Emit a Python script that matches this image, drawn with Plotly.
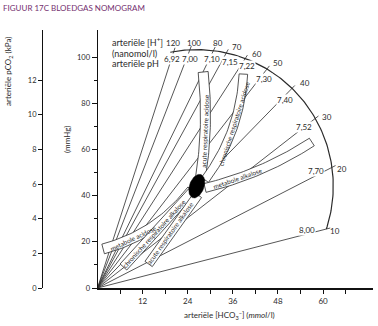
import numpy as np
import plotly.graph_objects as go

# ---------------- data ----------------
ph_values = [6.92, 7.00, 7.10, 7.15, 7.22, 7.30, 7.40, 7.52, 7.70, 8.00]
ph_text = ["6,92", "7,00", "7,10", "7,15", "7,22", "7,30", "7,40", "7,52", "7,70", "8,00"]
h_text = ["120", "100", "80", "70", "60", "50", "40", "30", "20", "10"]

normal_hco3 = 26.4
normal_pco2 = 44.1

band_names = ["acute respiratoire acidose", "chronische respiratoire acidose", "metabole alkalose",
              "metabole acidose", "chronische respiratoire alkalose", "acute respiratoire alkalose"]
band_start_hco3 = [27.3, 28.6, 28.6, 25.1, 25.1, 26.7]
band_start_pco2 = [46.8, 46.8, 43.3, 42.4, 41.6, 40.3]
band_end_hco3 = [28.1, 38.8, 57.0, 1.5, 6.9, 13.6]
band_end_pco2 = [93.5, 92.6, 63.2, 16.9, 9.1, 10.4]

hco3_ticks = [12, 24, 36, 48, 60]
hco3_minor = [6, 18, 30, 42, 54, 66]
mmhg_ticks = [0, 20, 40, 60, 80, 100]
mmhg_minor = [10, 30, 50, 70, 90]
kpa_ticks = [0, 2, 4, 6, 8, 10, 12]
KPA_PER_MMHG = 1 / 7.50062

# ---------------- layout geometry (pixels) ----------------
W, H = 378, 326
ML, MR, MT, MB = 20, 5, 30, 38
PL, PR, PT, PB = ML, W - MR, MT, H - MB
X0_PX = 97.5
SX, SY = 3.76, 2.31
X_MAX = (PR - X0_PX) / SX
Y_MAX = (PB - PT) / SY
PW, PH = PR - PL, PB - PT


def to_px(x, y):
    return np.array([X0_PX + x * SX, PB - y * SY])


def to_data(p):
    return (p[0] - X0_PX) / SX, (PB - p[1]) / SY


INK = "#2b2b2b"
FONT = "Lato, Open Sans, sans-serif"

fig = go.Figure()

# ---------------- iso-pH lines and arc ----------------
C = to_px(normal_hco3, normal_pco2)
R_ARC = 136.5
O = to_px(0, 0)
inter = []
for ph in ph_values:
    s = 1 / (0.03 * 10 ** (ph - 6.1))
    d = to_px(1, s) - O
    d = d / np.linalg.norm(d)
    f = O - C
    b = 2 * np.dot(d, f)
    c = np.dot(f, f) - R_ARC ** 2
    t = (-b + np.sqrt(b * b - 4 * c)) / 2
    I = O + t * d
    inter.append(I)
    end = O + (t + 4) * d
    ex, ey = to_data(end)
    fig.add_trace(go.Scatter(x=[0, ex], y=[0, ey], mode="lines",
                             line=dict(color=INK, width=0.8), hoverinfo="skip"))

a0 = np.degrees(np.arctan2(*(inter[0] - C)[::-1])) - 1.5
a1 = np.degrees(np.arctan2(*(inter[-1] - C)[::-1]))
ang = np.radians(np.linspace(a0, a1, 120))
arc_px = np.stack([C[0] + R_ARC * np.cos(ang), C[1] + R_ARC * np.sin(ang)])
ax_, ay_ = to_data(arc_px)
fig.add_trace(go.Scatter(x=ax_, y=ay_, mode="lines", line=dict(color=INK, width=1.2),
                         hoverinfo="skip"))

# ---------------- bands ----------------
band_width_px = [10, 8.5, 9, 10, 9, 9]
band_bend_px = [3.7, 8.5, 5, -9, 0, 0]
band_text_frac = [0.45, 0.56, 0.29, 0.71, 0.55, 0.55]
band_annos = []
for i, name in enumerate(band_names):
    S = to_px(band_start_hco3[i], band_start_pco2[i])
    E = to_px(band_end_hco3[i], band_end_pco2[i])
    d = E - S
    n = np.array([-d[1], d[0]]) / np.linalg.norm(d)
    P1 = (S + E) / 2 + 2 * band_bend_px[i] * n
    tt = np.linspace(0, 1, 40)[:, None]
    P = (1 - tt) ** 2 * S + 2 * (1 - tt) * tt * P1 + tt ** 2 * E
    T = 2 * (1 - tt) * (P1 - S) + 2 * tt * (E - P1)
    T = T / np.linalg.norm(T, axis=1)[:, None]
    N = np.stack([-T[:, 1], T[:, 0]], axis=1)
    w = band_width_px[i] / 2
    left = P + w * N
    right = P - w * N
    poly = np.vstack([left, right[::-1], left[:1]])
    bx, by = to_data(poly.T)
    fig.add_trace(go.Scatter(x=bx, y=by, mode="lines", fill="toself", fillcolor="white",
                             line=dict(color=INK, width=0.8), hoverinfo="skip"))
    f = band_text_frac[i]
    Pt = (1 - f) ** 2 * S + 2 * (1 - f) * f * P1 + f ** 2 * E
    Tt = 2 * (1 - f) * (P1 - S) + 2 * f * (E - P1)
    if Tt[0] < 0:
        Tt = -Tt
    angle = np.degrees(np.arctan2(Tt[1], Tt[0]))
    tx, ty = to_data(Pt)
    band_annos.append(dict(x=tx, y=ty, xref="x", yref="y", text=name, showarrow=False,
                           xanchor="center", yanchor="middle",
                           textangle=angle, font=dict(size=6.5, color=INK, family=FONT)))

# ---------------- normal ellipse ----------------
phi = np.linspace(0, 2 * np.pi, 60)
alpha = np.radians(20)
k = np.array([np.cos(alpha), np.sin(alpha)])
m = np.array([np.sin(alpha), -np.cos(alpha)])
Ce = to_px(normal_hco3, normal_pco2)
ell = Ce[:, None] + 7.2 * np.cos(phi) * k[:, None] + 12.3 * np.sin(phi) * m[:, None]
ex_, ey_ = to_data(ell)
fig.add_trace(go.Scatter(x=ex_, y=ey_, mode="lines", fill="toself", fillcolor="black",
                         line=dict(color="black", width=0.5), hoverinfo="skip"))

# invisible trace to activate the kPa axis
fig.add_trace(go.Scatter(x=[0], y=[0], yaxis="y2", mode="markers",
                         marker=dict(opacity=0), hoverinfo="skip"))

# ---------------- labels on the arc ----------------
ph_off = [(-1.5, 7.5), (0.5, 9.3), (-1, 8.5), (4, 9.4), (2, 7), (-2.6, 10.4),
          (-6.6, 11.3), (-11, 8.3), (-16, 3.7), (-19, 1)]
h_off = [(-0.5, -8.5), (4.5, -6.7), (5, -7.5), (11, -5.6), (12, -5), (11.4, -5.6),
         (13.4, -5.7), (12, -1.7), (10, 1.7), (9, 2)]
annos = []
for i, I in enumerate(inter):
    ix, iy = to_data(I)
    annos.append(dict(x=ix, y=iy, xref="x", yref="y", text=ph_text[i], showarrow=False,
                      xanchor="center", yanchor="middle",
                      xshift=ph_off[i][0], yshift=-ph_off[i][1], bgcolor="white", borderpad=0,
                      font=dict(size=8, color=INK, family=FONT)))
    annos.append(dict(x=ix, y=iy, xref="x", yref="y", text=h_text[i], showarrow=False,
                      xanchor="center", yanchor="middle",
                      xshift=h_off[i][0], yshift=-h_off[i][1],
                      font=dict(size=8, color=INK, family=FONT)))


def pxx(px):
    return (px - PL) / PW


def pxy(py):
    return (PB - py) / PH


for txt, py in [("arteriële [H<sup>+</sup>]", 42), ("(nanomol/l)", 53), ("arteriële pH", 63)]:
    annos.append(dict(x=pxx(110), y=pxy(py), xref="paper", yref="paper", text=txt,
                      showarrow=False, xanchor="left", yanchor="middle",
                      font=dict(size=9, color=INK, family=FONT)))

annos.append(dict(x=pxx(9), y=pxy(72), xref="paper", yref="paper",
                  text="arteriële pCO<sub>2</sub> (kPa)", textangle=-90, showarrow=False,
                  xanchor="center", yanchor="middle",
                  font=dict(size=8, color=INK, family=FONT)))
annos.append(dict(x=pxx(67), y=pxy(140), xref="paper", yref="paper",
                  text="(mmHg)", textangle=-90, showarrow=False,
                  xanchor="center", yanchor="middle",
                  font=dict(size=8, color=INK, family=FONT)))
annos.append(dict(x=pxx(230), y=pxy(315), xref="paper", yref="paper",
                  text="arteriële [HCO<sub>3</sub><sup>−</sup>] (<i>mmol</i>/l)", showarrow=False,
                  xanchor="center", yanchor="middle",
                  font=dict(size=8, color=INK, family=FONT)))

fig.update_layout(
    width=W, height=H,
    margin=dict(l=ML, r=MR, t=MT, b=MB, pad=0),
    paper_bgcolor="white", plot_bgcolor="white",
    showlegend=False, hovermode=False,
    font=dict(family=FONT, size=8, color=INK),
    title=dict(text="FIGUUR 17C BLOEDGAS NOMOGRAM", x=3 / W, y=1 - 8 / H,
               xref="container", yref="container", xanchor="left", yanchor="middle",
               font=dict(size=8, color="#74306f", family=FONT)),
    xaxis=dict(domain=[pxx(X0_PX), 1], range=[0, X_MAX], showline=True, linewidth=2,
               linecolor="#111", ticks="outside", ticklen=4, tickcolor="#111",
               tickvals=hco3_ticks, showgrid=False, zeroline=False,
               tickfont=dict(size=8, color=INK),
               minor=dict(tickvals=hco3_minor, ticks="outside", ticklen=4, tickcolor="#111")),
    yaxis=dict(range=[0, Y_MAX], anchor="x", showline=True, linewidth=1, linecolor="#111",
               ticks="outside", ticklen=5, tickcolor="#111", tickvals=mmhg_ticks,
               showgrid=False, zeroline=False, tickfont=dict(size=7.5, color=INK),
               minor=dict(tickvals=mmhg_minor, ticks="outside", ticklen=3, tickcolor="#111")),
    yaxis2=dict(range=[0, Y_MAX * KPA_PER_MMHG], overlaying="y", anchor="free",
                position=pxx(42), side="left", showline=True, linewidth=1, linecolor="#111",
                ticks="outside", ticklen=4, tickcolor="#111", tickvals=kpa_ticks,
                showgrid=False, zeroline=False, tickfont=dict(size=7.5, color=INK)),
    annotations=band_annos + annos,
)

fig.write_html("out.html")
